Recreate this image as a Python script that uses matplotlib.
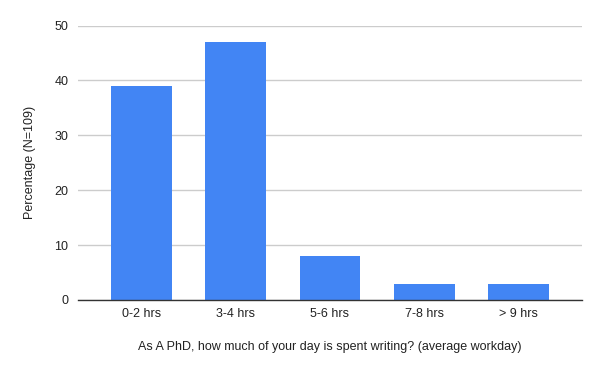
import matplotlib
matplotlib.use("Agg")
import matplotlib.pyplot as plt

categories = ["0-2 hrs", "3-4 hrs", "5-6 hrs", "7-8 hrs", "> 9 hrs"]
values = [39, 47, 8, 3, 3]
yticks = [0, 10, 20, 30, 40, 50]

plt.rcParams['font.family'] = ['Liberation Sans', 'DejaVu Sans']

fig = plt.figure(figsize=(6, 3.71), dpi=100)
ax = fig.add_axes([78/600, 71/371, 504/600, 274.5/371])

x = list(range(len(categories)))
ax.bar(x, values, width=0.647, color="#4285F4", zorder=3)

ax.set_xlim(-0.674, 4.674)
ax.set_ylim(0, 50)
ax.set_yticks(yticks)
ax.set_xticks(x)
ax.set_xticklabels(categories)
ax.grid(axis='y', color="#cccccc", linewidth=1, zorder=0)
for s in ['top', 'right', 'left']:
    ax.spines[s].set_visible(False)
ax.spines['bottom'].set_color("#333333")
ax.spines['bottom'].set_linewidth(1)
ax.spines['bottom'].set_zorder(4)
ax.tick_params(axis='both', length=0, labelsize=9, colors="#222222")
ax.tick_params(axis='y', pad=7)
ax.tick_params(axis='x', pad=6)

ax.set_ylabel("Percentage (N=109)", fontsize=9, color="#222222", labelpad=13)
ax.set_xlabel("As A PhD, how much of your day is spent writing? (average workday)", fontsize=9, color="#222222", labelpad=15)

fig.savefig("out.png", dpi=100)
